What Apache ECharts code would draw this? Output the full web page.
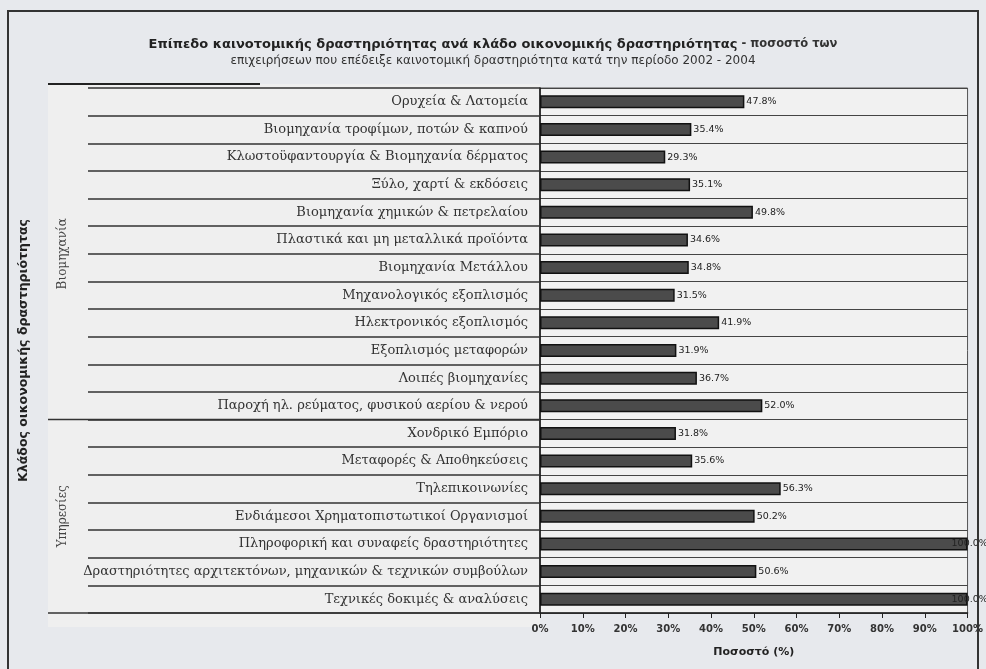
<!DOCTYPE html>
<html>
<head>
<meta charset="utf-8">
<script src="https://cdn.jsdelivr.net/npm/echarts@6/dist/echarts.min.js"></script>
<style>
  html, body { margin: 0; padding: 0; background: #e7e9ed; }
  #chart { width: 986px; height: 669px; }
</style>
</head>
<body>
<div id="chart"></div>
<script>
// κλάδοι (από πάνω προς τα κάτω)
const categories = [
  'Ορυχεία & Λατομεία',
  'Βιομηχανία τροφίμων, ποτών & καπνού',
  'Κλωστοϋφαντουργία & Βιομηχανία δέρματος',
  'Ξύλο, χαρτί & εκδόσεις',
  'Βιομηχανία χημικών & πετρελαίου',
  'Πλαστικά και μη μεταλλικά προϊόντα',
  'Βιομηχανία Μετάλλου',
  'Μηχανολογικός εξοπλισμός',
  'Ηλεκτρονικός εξοπλισμός',
  'Εξοπλισμός μεταφορών',
  'Λοιπές βιομηχανίες',
  'Παροχή ηλ. ρεύματος, φυσικού αερίου & νερού',
  'Χονδρικό Εμπόριο',
  'Μεταφορές & Αποθηκεύσεις',
  'Τηλεπικοινωνίες',
  'Ενδιάμεσοι Χρηματοπιστωτικοί Οργανισμοί',
  'Πληροφορική και συναφείς δραστηριότητες',
  'Δραστηριότητες αρχιτεκτόνων, μηχανικών & τεχνικών συμβούλων',
  'Τεχνικές δοκιμές & αναλύσεις'
];
const values = [47.8, 35.4, 29.3, 35.1, 49.8, 34.6, 34.8, 31.5, 41.9, 31.9, 36.7, 52.0,
                31.8, 35.6, 56.3, 50.2, 100.0, 50.6, 100.0];

// ομάδες κλάδων
const groupNames = ['Βιομηχανία', 'Υπηρεσίες'];
const groupSizes = [12, 7];

const xMax = 100;
const xStep = 10;

const titleBold = 'Επίπεδο καινοτομικής δραστηριότητας ανά κλάδο οικονομικής δραστηριότητας';
const titleRest = ' - ποσοστό των';
const subtitle = 'επιχειρήσεων που επέδειξε καινοτομική δραστηριότητα κατά την περίοδο 2002 - 2004';

const chart = echarts.init(document.getElementById('chart'));

const barData = values.map(v => v >= 95
  ? { value: v, label: { offset: [-18, 0] } }
  : v);

chart.setOption({
  animation: false,
  backgroundColor: '#e7e9ed',
  title: [
    {
      left: 'center', top: 33,
      text: '{b|' + titleBold + '}{n|' + titleRest + '}',
      textStyle: {
        rich: {
          b: { fontFamily: 'DejaVu Sans', fontWeight: 'bold', fontSize: 13, color: '#222' },
          n: { fontFamily: 'DejaVu Sans', fontSize: 11.5, color: '#333' }
        }
      }
    },
    {
      left: 'center', top: 50,
      text: subtitle,
      textStyle: { fontFamily: 'DejaVu Sans', fontWeight: 'normal', fontSize: 12, color: '#333' }
    }
  ],
  grid: {
    left: 540, right: 17, top: 88, bottom: 56,
    show: true,
    backgroundColor: '#f1f1f1',
    borderColor: '#555',
    borderWidth: 1
  },
  xAxis: {
    type: 'value',
    min: 0, max: xMax, interval: xStep,
    axisLine: { show: true, lineStyle: { color: '#222', width: 1.5 } },
    axisTick: { show: true, length: 5, lineStyle: { color: '#222' } },
    splitLine: { show: false },
    axisLabel: {
      formatter: '{value}%', margin: 11,
      fontFamily: 'DejaVu Sans', fontWeight: 'bold', fontSize: 10, color: '#333'
    },
    name: 'Ποσοστό (%)',
    nameLocation: 'middle',
    nameGap: 34,
    nameTextStyle: { fontFamily: 'DejaVu Sans', fontWeight: 'bold', fontSize: 11, color: '#222' }
  },
  yAxis: {
    type: 'category',
    inverse: true,
    data: categories,
    axisLine: { show: true, lineStyle: { color: '#111', width: 1.5 } },
    axisTick: { show: true, interval: 0, length: 452, lineStyle: { color: '#333', width: 1.5 } },
    splitLine: { show: true, interval: 0, lineStyle: { color: '#444', width: 1.2 } },
    axisLabel: {
      interval: 0, margin: 12,
      fontFamily: 'DejaVu Serif', fontSize: 13, color: '#333'
    },
    name: 'Κλάδος οικονομικής δραστηριότητας',
    nameLocation: 'middle',
    nameGap: 510,
    nameRotate: 90,
    nameTextStyle: { fontFamily: 'DejaVu Sans', fontWeight: 'bold', fontSize: 12.5, color: '#222' }
  },
  series: [{
    type: 'bar',
    data: barData,
    barWidth: 13,
    itemStyle: { color: '#4b4b4b', borderColor: '#111', borderWidth: 1.5 },
    label: {
      show: true, position: 'right', distance: 2,
      formatter: p => p.value.toFixed(1) + '%',
      fontFamily: 'DejaVu Sans', fontSize: 9.5, color: '#222'
    }
  }]
});

// ομάδες: γραμμή διαχωρισμού και κάθετες ετικέτες, από τη θέση του άξονα
const yAt = i => chart.convertToPixel({ yAxisIndex: 0 }, categories[i]);
const band = yAt(1) - yAt(0);
const xAxisLeft = chart.convertToPixel({ xAxisIndex: 0 }, 0);
const plotTop = yAt(0) - band / 2;
const graphics = [
  { type: 'rect', z: -10, silent: true,
    shape: { x: 48, y: plotTop - 4, width: xAxisLeft - 48, height: band * categories.length + 18 },
    style: { fill: '#efefef' } },
  { type: 'line', z: 100, silent: true,
    shape: { x1: 48, y1: plotTop - 4, x2: 260, y2: plotTop - 4 },
    style: { stroke: '#222', lineWidth: 2 } },
  { type: 'rect', z: 100, silent: true,
    shape: { x: 8, y: 11, width: 970, height: 700 },
    style: { fill: 'none', stroke: '#333', lineWidth: 2 } }
];
let start = 0;
groupSizes.forEach((n, g) => {
  const top = yAt(start) - band / 2;
  const bottom = yAt(start + n - 1) + band / 2;
  graphics.push({
    type: 'line', z: 100, silent: true,
    shape: { x1: 48, y1: bottom, x2: xAxisLeft, y2: bottom },
    style: { stroke: '#333', lineWidth: 1.5 }
  });
  graphics.push({
    type: 'text', z: 100, silent: true,
    x: 63, y: (top + bottom) / 2, rotation: Math.PI / 2,
    style: {
      text: groupNames[g], fontFamily: 'DejaVu Serif', fontSize: 12, fill: '#444',
      align: 'center', verticalAlign: 'middle'
    }
  });
  start += n;
});
chart.setOption({ graphic: graphics });
</script>
</body>
</html>
